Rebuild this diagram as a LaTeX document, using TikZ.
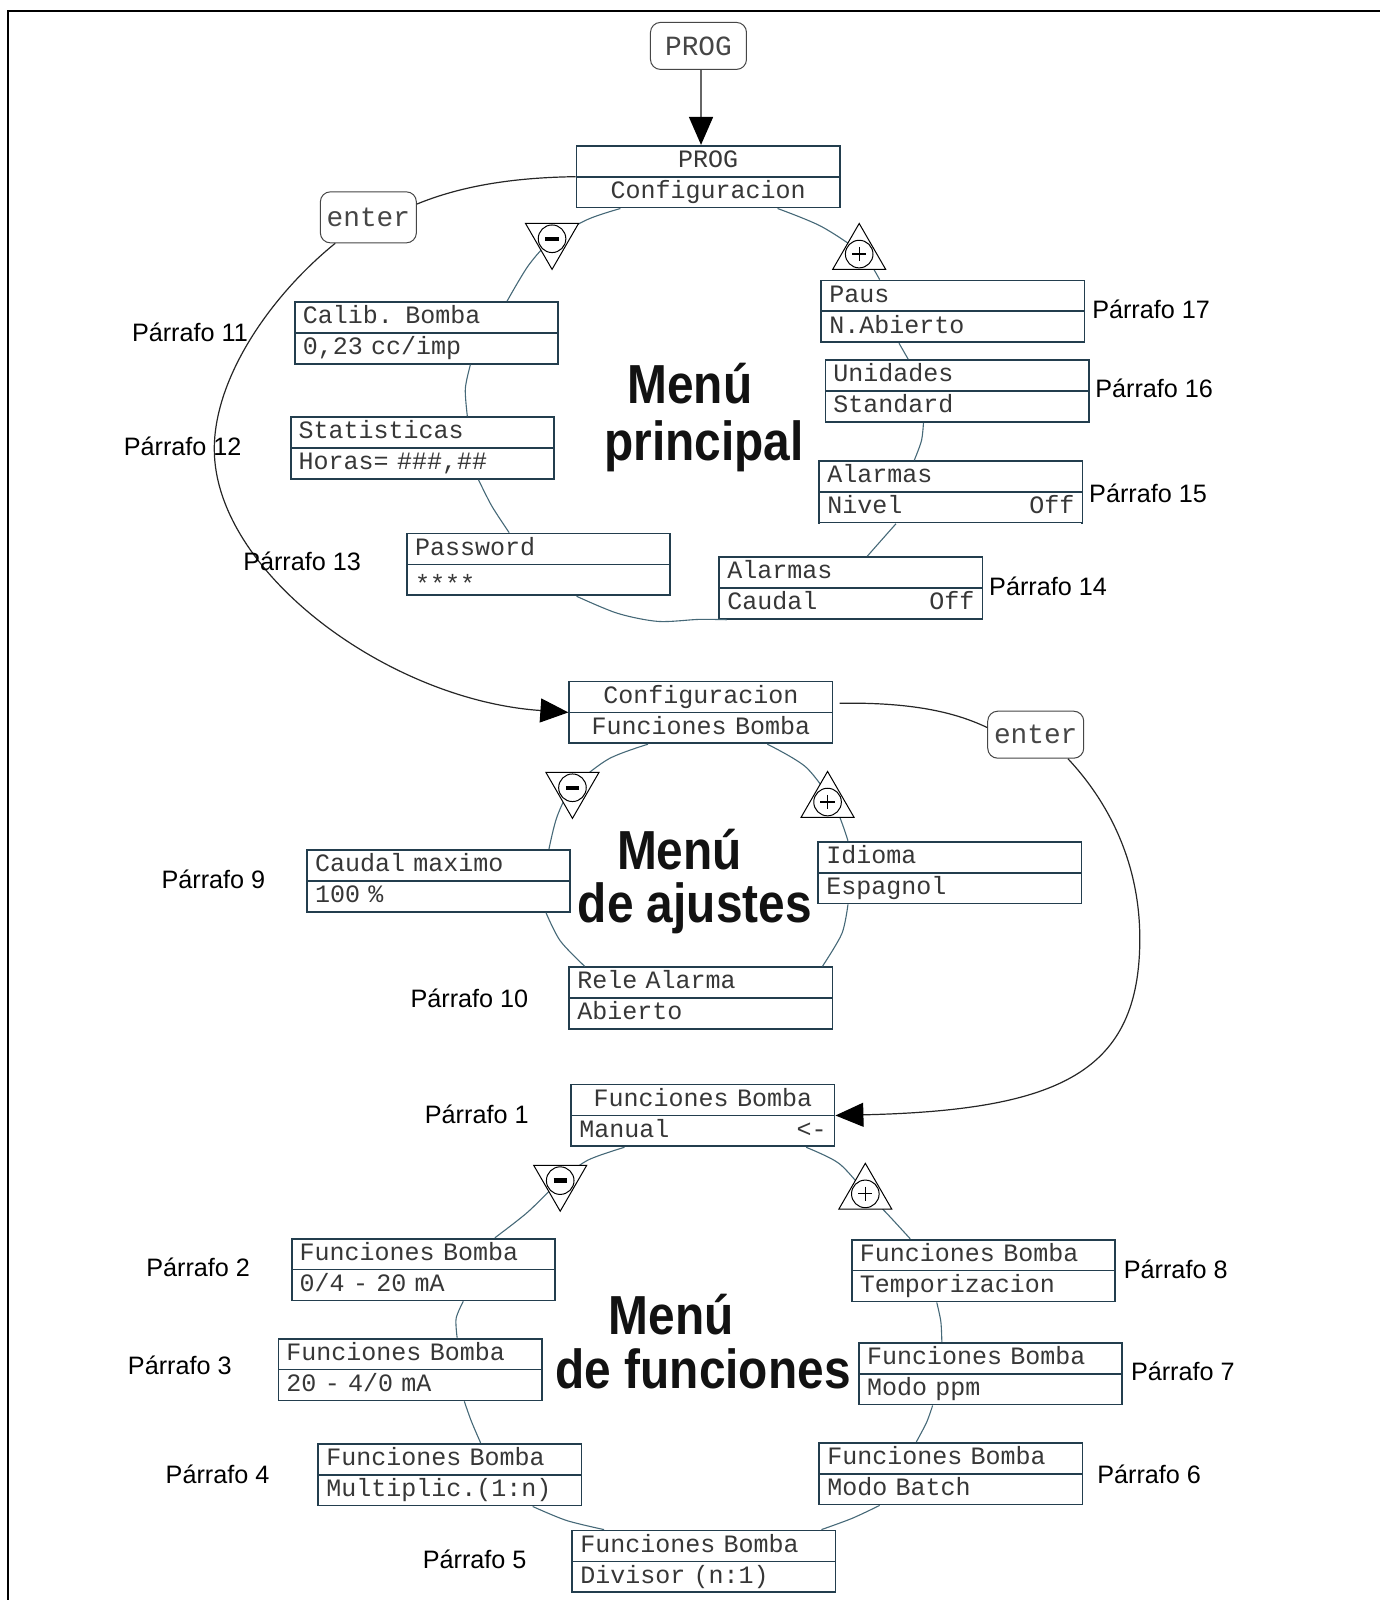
\documentclass[tikz,border=0pt]{standalone}
\usepackage{fontspec}
\setmainfont{Liberation Sans}
\newfontfamily\monof{Liberation Mono}
\usetikzlibrary{shapes.multipart,shapes.geometric,arrows.meta,calc}
\definecolor{boxc}{RGB}{35,62,78}
\definecolor{ringc}{RGB}{70,105,120}
\definecolor{txt}{RGB}{55,55,55}
\definecolor{rbc}{RGB}{70,70,70}
\newcommand\rs{\rule[-4.15pt]{0pt}{14.55pt}}
\newcommand\ctr[1]{\hfill#1\hfill\null}
\begin{document}
\begin{tikzpicture}[x=0.5102pt,y=-0.5102pt,
  dbox/.style={rectangle split, rectangle split parts=2, draw=boxc, line width=0.9pt,
    fill=white, inner xsep=4pt, inner ysep=0pt, text width=123.6pt, align=left,
    anchor=north west, font=\monof\fontsize{12.5pt}{15pt}\selectfont, text=txt},
  rbox/.style={draw=rbc, line width=0.5pt, rounded corners=5pt, fill=white,
    minimum width=48pt, inner sep=0pt, text=rbc, font=\monof\fontsize{13.9pt}{15pt}\selectfont},
  par/.style={anchor=west, inner sep=0pt, font=\fontsize{12.6pt}{14pt}\selectfont, text=black},
  ttl/.style={anchor=base, inner sep=0pt, font=\fontsize{27.5pt}{28pt}\selectfont\bfseries, text=black!93},
  ring/.style={draw=ringc, line width=0.55pt},
  conn/.style={draw=black!85, line width=0.6pt},
  bigtip/.style={-{Triangle[length=14pt,width=12pt,color=black]}},
  tri/.style={regular polygon, regular polygon sides=3, draw=black, line width=0.5pt,
    fill=white, minimum size=30.6pt, inner sep=0pt},
  circ/.style={circle, draw=black, line width=0.5pt, minimum size=13.8pt, inner sep=0pt},
]
\useasboundingbox (0,0) rectangle (1352,1568);
% frame
\draw[line width=1pt] (1352,11) -- (7.6,11) -- (7.6,1568);

% ---------- boxes ----------
\node[rbox, minimum height=23.5pt] (prog) at (684.5,45) {PROG};
\node[rbox, minimum height=25.5pt] (enter1) at (361,213) {enter};
\node[rbox, minimum height=23.5pt] (enter2) at (1015,720) {enter};

\node[dbox] (cfg1) at (564,142) {\rs\ctr{PROG}\nodepart{two}\rs\ctr{Configuracion}};
\node[dbox] (calib) at (288,295) {\rs Calib. Bomba\nodepart{two}\rs 0,23 cc/imp};
\node[dbox] (stat) at (284,408) {\rs Statisticas\nodepart{two}\rs Horas= \#\#\#,\#\#};
\node[dbox] (pass) at (398,522) {\rs Password\nodepart{two}\rs\raisebox{-3pt}{****}};
\node[dbox] (caud) at (704,545) {\rs Alarmas\nodepart{two}\rs Caudal\hfill Off};
\node[dbox] (niv) at (802,451) {\rs Alarmas\nodepart{two}\rs Nivel\hfill Off};
\draw[white, line width=1.3pt] ($(niv.south west)+(2,0)$) -- ($(niv.south east)+(-2,0)$);
\node[dbox] (unid) at (808,352) {\rs Unidades\nodepart{two}\rs Standard};
\node[dbox] (paus) at (804,274) {\rs Paus\nodepart{two}\rs N.Abierto};

\node[dbox] (cfg2) at (557,667) {\rs\ctr{Configuracion}\nodepart{two}\rs\ctr{Funciones Bomba}};
\node[dbox] (cmax) at (300,832) {\rs Caudal maximo\nodepart{two}\rs 100 \%};
\node[dbox] (idio) at (801,824) {\rs Idioma\nodepart{two}\rs Espagnol};
\node[dbox] (rele) at (557,947) {\rs Rele Alarma\nodepart{two}\rs Abierto};

\node[dbox] (fman) at (559,1062) {\rs\ctr{Funciones Bomba}\nodepart{two}\rs Manual\hfill <-};
\node[dbox] (f2) at (285,1213) {\rs Funciones Bomba\nodepart{two}\rs 0/4 - 20 mA};
\node[dbox] (f3) at (272,1311) {\rs Funciones Bomba\nodepart{two}\rs 20 - 4/0 mA};
\node[dbox] (f4) at (311,1414) {\rs Funciones Bomba\nodepart{two}\rs Multiplic.(1:n)};
\node[dbox] (f5) at (560,1499) {\rs Funciones Bomba\nodepart{two}\rs Divisor (n:1)};
\node[dbox] (f6) at (802,1413) {\rs Funciones Bomba\nodepart{two}\rs Modo Batch};
\node[dbox] (f7) at (841,1315) {\rs Funciones Bomba\nodepart{two}\rs Modo ppm};
\node[dbox] (f8) at (834,1214) {\rs Funciones Bomba\nodepart{two}\rs Temporizacion};

% ---------- rings ----------
\begin{scope}[ring]
\draw plot[smooth,tension=0.5] coordinates {(cfg1.south -| 608,0) (576,215) (541,235) (518,260) (calib.north -| 497,0)};
\draw plot[smooth,tension=0.5] coordinates {(calib.south -| 461,0) (456,381) (stat.north -| 458,0)};
\draw plot[smooth,tension=0.5] coordinates {(stat.south -| 469,0) (482,496) (pass.north -| 499,0)};
\draw plot[smooth,tension=0.5] coordinates {(pass.south -| 565,0) (605,601) (645,609) (685,607) (caud.south -| 712,0)};
\draw plot[smooth,tension=0.5] coordinates {(caud.north -| 850,0) (865,528) (niv.south -| 878,0)};
\draw plot[smooth,tension=0.5] coordinates {(niv.north -| 896,0) (903,432) (unid.south -| 905,0)};
\draw (unid.north -| 890,0) -- (paus.south -| 881,0);
\draw plot[smooth,tension=0.5] coordinates {(paus.north -| 862,0) (845,249) (805,222) (cfg1.south -| 762,0)};

\draw plot[smooth,tension=0.5] coordinates {(cfg2.south -| 635,0) (596,744) (561,772) (546,800) (cmax.north -| 538,0)};
\draw plot[smooth,tension=0.5] coordinates {(cmax.south -| 535,0) (549,922) (rele.north -| 573,0)};
\draw plot[smooth,tension=0.5] coordinates {(rele.north -| 806,0) (825,915) (idio.south -| 831,0)};
\draw plot[smooth,tension=0.5] coordinates {(idio.north -| 831,0) (818,790) (790,752) (cfg2.south -| 752,0)};

\draw plot[smooth,tension=0.5] coordinates {(fman.south -| 612,0) (576,1137) (549,1157) (517,1188) (f2.north -| 485,0)};
\draw plot[smooth,tension=0.5] coordinates {(f2.south -| 454,0) (447,1292) (f3.north -| 448,0)};
\draw plot[smooth,tension=0.5] coordinates {(f3.south -| 455,0) (462,1393) (f4.north -| 471,0)};
\draw plot[smooth,tension=0.5] coordinates {(f4.south -| 522,0) (555,1490) (f5.north -| 592,0)};
\draw plot[smooth,tension=0.5] coordinates {(f5.north -| 805,0) (835,1488) (f6.south -| 862,0)};
\draw plot[smooth,tension=0.5] coordinates {(f6.north -| 898,0) (908,1394) (f7.south -| 914,0)};
\draw plot[smooth,tension=0.5] coordinates {(f7.north -| 923,0) (922,1295) (f8.south -| 918,0)};
\draw plot[smooth,tension=0.5] coordinates {(f8.north -| 892,0) (868,1188) (848,1168) (822,1140) (fman.south -| 790,0)};
\end{scope}

% ---------- minus / plus symbols ----------
\node[tri, shape border rotate=180] (m1) at (541,234) {};
\node[circ] (m1c) at (m1) {};
\draw[line width=2.2pt] ($(m1c)+(-6.5,0)$) -- ($(m1c)+(6.5,0)$);
\node[tri] (p1t) at (842,249) {};
\node[circ] (p1c) at (p1t) {};
\draw[line width=0.6pt] ($(p1c)+(-7,0)$) -- ($(p1c)+(7,0)$) ($(p1c)+(0,-7)$) -- ($(p1c)+(0,7)$);

\node[tri, shape border rotate=180] (m2) at (561,772) {};
\node[circ] (m2c) at (m2) {};
\draw[line width=2.2pt] ($(m2c)+(-6.5,0)$) -- ($(m2c)+(6.5,0)$);
\node[tri] (p2t) at (811,786) {};
\node[circ] (p2c) at (p2t) {};
\draw[line width=0.6pt] ($(p2c)+(-7,0)$) -- ($(p2c)+(7,0)$) ($(p2c)+(0,-7)$) -- ($(p2c)+(0,7)$);

\node[tri, shape border rotate=180] (m3) at (549,1157) {};
\node[circ] (m3c) at (m3) {};
\draw[line width=2.2pt] ($(m3c)+(-6.5,0)$) -- ($(m3c)+(6.5,0)$);
\node[tri] (p3t) at (848,1170) {};
\node[circ] (p3c) at (p3t) {};
\draw[line width=0.6pt] ($(p3c)+(-7,0)$) -- ($(p3c)+(7,0)$) ($(p3c)+(0,-7)$) -- ($(p3c)+(0,7)$);

% ---------- connectors ----------
\draw[draw=black!60, line width=0.8pt, bigtip] (prog.south -| 687,0) -- (cfg1.north -| 687,0);
\draw[conn] (cfg1.west) .. controls (500,174) and (450,183) .. ($(enter1.east)+(0,-13)$);
\draw[conn, bigtip] ($(enter1.south west)+(15,0)$) .. controls (265,290) and (210,370) .. (210,440)
   .. controls (210,560) and (380,686) .. (cfg2.west);
\draw[conn] ($(cfg2.east)+(6,-9)$) .. controls (900,688) and (940,700) .. ($(enter2.west)+(0,-7)$);
\draw[conn, bigtip] ($(enter2.south east)+(-16,0)$) .. controls (1090,790) and (1117,850) .. (1117,920)
   .. controls (1117,1050) and (1040,1088) .. (fman.east);

% ---------- titles ----------
\node[ttl] (t1a) at (676,395) {\scalebox{0.87}[1]{Menú}};
\node[ttl] (t1b) at (690,451) {\scalebox{0.87}[1]{principal}};
\node[ttl] (t2a) at (666,852) {\scalebox{0.87}[1]{Menú}};
\node[ttl] (t2b) at (681,904) {\scalebox{0.87}[1]{de ajustes}};
\node[ttl] (t3a) at (658,1308) {\scalebox{0.87}[1]{Menú}};
\node[ttl] (t3b) at (689,1361) {\scalebox{0.87}[1]{de funciones}};

% ---------- paragraph labels ----------
\node[par] (q1) at (416,1092) {Párrafo 1};
\node[par] (q2) at (143,1242) {Párrafo 2};
\node[par] (q3) at (125,1338) {Párrafo 3};
\node[par] (q4) at (162,1445) {Párrafo 4};
\node[par] (q5) at (414,1528) {Párrafo 5};
\node[par] (q6) at (1075,1445) {Párrafo 6};
\node[par] (q7) at (1108,1344) {Párrafo 7};
\node[par] (q8) at (1101,1244) {Párrafo 8};
\node[par] (q9) at (158,862) {Párrafo 9};
\node[par] (q10) at (402,978) {Párrafo 10};
\node[par] (q11) at (129,326) {Párrafo 11};
\node[par] (q12) at (121,437) {Párrafo 12};
\node[par] (q13) at (238,550) {Párrafo 13};
\node[par] (q14) at (969,575) {Párrafo 14};
\node[par] (q15) at (1067,483) {Párrafo 15};
\node[par] (q16) at (1073,381) {Párrafo 16};
\node[par] (q17) at (1070,303) {Párrafo 17};
\end{tikzpicture}
\end{document}
